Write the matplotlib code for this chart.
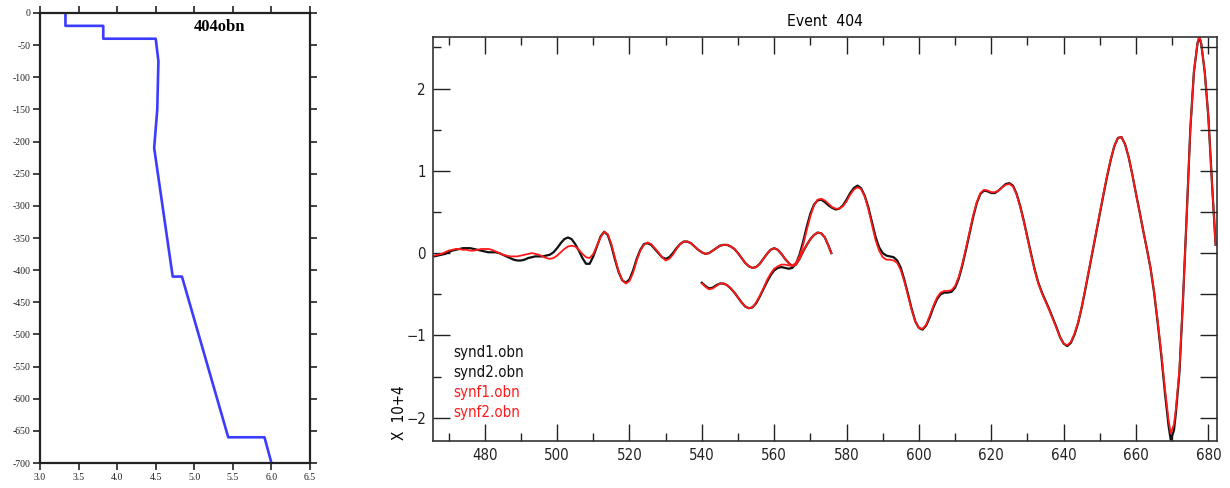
import matplotlib
matplotlib.use("Agg")
import matplotlib.pyplot as plt
from matplotlib import font_manager
from matplotlib.font_manager import FontProperties
from matplotlib.ticker import MultipleLocator

# ---------------- data: velocity profile (left) ----------------
vel = [3.33, 3.33, 3.82, 3.82, 4.50, 4.535, 4.52, 4.48, 4.72, 4.84, 5.44, 5.91, 6.00]
depth = [0, -20, -20, -40, -40, -75, -150, -210, -410, -410, -660, -660, -700]
vel_ticks = [3.0, 3.5, 4.0, 4.5, 5.0, 5.5, 6.0, 6.5]
vel_ticklabels = ["3.0", "3.5", "4.0", "4.5", "5.0", "5.5", "6.0", "6.5"]
depth_ticks = [0, -50, -100, -150, -200, -250, -300, -350, -400, -450, -500, -550, -600, -650, -700]
depth_ticklabels = ["0", "-50", "-100", "-150", "-200", "-250", "-300", "-350", "-400",
                    "-450", "-500", "-550", "-600", "-650", "-700"]
model_label = "404obn"

# ---------------- data: seismograms (right) ----------------
t1 = [466, 467, 468, 469, 470, 471, 472, 473, 474, 475, 476, 477, 478, 479, 480, 481, 482,
      483, 484, 485, 486, 487, 488, 489, 490, 491, 492, 493, 494, 495, 496, 497, 498, 499,
      500, 501, 502, 503, 504, 505, 506, 507, 508, 509, 510, 511, 512, 513, 514, 515, 516,
      517, 518, 519, 520, 521, 522, 523, 524, 525, 526, 527, 528, 529, 530, 531, 532, 533,
      534, 535, 536, 537, 538, 539, 540, 541, 542, 543, 544, 545, 546, 547, 548, 549, 550,
      551, 552, 553, 554, 555, 556, 557, 558, 559, 560, 561, 562, 563, 564, 565, 566, 567,
      568, 569, 570, 571, 572, 573, 574, 575, 575.8]
synd1 = [-0.04, -0.03, -0.02, -0.01, 0.01, 0.03, 0.04, 0.05, 0.06, 0.06, 0.06, 0.05, 0.04,
         0.03, 0.02, 0.01, 0.01, 0.01, 0.00, -0.02, -0.04, -0.06, -0.08, -0.09, -0.09, -0.08,
         -0.06, -0.05, -0.04, -0.04, -0.04, -0.03, -0.02, 0.01, 0.06, 0.12, 0.17, 0.19, 0.17,
         0.11, 0.03, -0.06, -0.13, -0.13, -0.04, 0.08, 0.20, 0.26, 0.22, 0.09, -0.08, -0.23,
         -0.33, -0.36, -0.32, -0.21, -0.07, 0.04, 0.11, 0.12, 0.10, 0.05, 0.00, -0.05, -0.07,
         -0.05, 0.00, 0.06, 0.11, 0.14, 0.14, 0.12, 0.08, 0.04, 0.01, -0.01, 0.00, 0.03, 0.06,
         0.09, 0.10, 0.10, 0.08, 0.05, 0.00, -0.06, -0.12, -0.16, -0.18, -0.17, -0.13, -0.07,
         -0.01, 0.04, 0.06, 0.04, -0.01, -0.07, -0.12, -0.16, -0.14, -0.07, 0.02, 0.10, 0.17,
         0.22, 0.25, 0.24, 0.19, 0.09, 0.00]
synf1 = [-0.03, -0.02, -0.01, 0.01, 0.03, 0.04, 0.05, 0.05, 0.04, 0.04, 0.03, 0.03, 0.04,
         0.05, 0.05, 0.05, 0.04, 0.02, 0.00, -0.02, -0.03, -0.04, -0.04, -0.04, -0.03, -0.02,
         -0.01, 0.00, -0.01, -0.02, -0.04, -0.06, -0.07, -0.06, -0.03, 0.01, 0.05, 0.08, 0.09,
         0.08, 0.04, -0.01, -0.05, -0.06, -0.01, 0.09, 0.19, 0.26, 0.23, 0.11, -0.06, -0.22,
         -0.33, -0.37, -0.34, -0.24, -0.09, 0.03, 0.10, 0.13, 0.11, 0.06, 0.01, -0.05, -0.09,
         -0.07, -0.02, 0.05, 0.11, 0.14, 0.14, 0.12, 0.08, 0.04, 0.01, -0.01, 0.00, 0.03, 0.06,
         0.09, 0.10, 0.10, 0.08, 0.05, 0.00, -0.06, -0.12, -0.16, -0.18, -0.17, -0.13, -0.07,
         -0.01, 0.04, 0.06, 0.04, -0.01, -0.07, -0.12, -0.16, -0.14, -0.07, 0.02, 0.10, 0.17,
         0.22, 0.25, 0.24, 0.19, 0.09, 0.00]

t2 = [540, 541, 542, 543, 544, 545, 546, 547, 548, 549, 550, 551, 552, 553, 554, 555, 556,
      557, 558, 559, 560, 561, 562, 563, 564, 565, 566, 567, 568, 569, 570, 571, 572, 573,
      574, 575, 576, 577, 578, 579, 580, 581, 582, 583, 584, 585, 586, 587, 588, 589, 590,
      591, 592, 593, 594, 595, 596, 597, 598, 599, 600, 601, 602, 603, 604, 605, 606, 607,
      608, 609, 610, 611, 612, 613, 614, 615, 616, 617, 618, 619, 620, 621, 622, 623, 624,
      625, 626, 627, 628, 629, 630, 631, 632, 633, 634, 635, 636, 637, 638, 639, 640, 641,
      642, 643, 644, 645, 646, 647, 648, 649, 650, 651, 652, 653, 654, 655, 656, 657, 658,
      659, 660, 661, 662, 663, 664, 665, 666, 667, 668, 669, 669.6, 670.5, 671, 672, 673,
      674, 675, 676, 677, 677.5, 678, 679, 680, 681, 682]
synd2 = [-0.36, -0.40, -0.43, -0.42, -0.39, -0.37, -0.37, -0.39, -0.43, -0.48, -0.54, -0.60,
         -0.65, -0.67, -0.66, -0.61, -0.53, -0.44, -0.35, -0.27, -0.21, -0.18, -0.17, -0.18,
         -0.19, -0.18, -0.13, -0.02, 0.14, 0.32, 0.48, 0.59, 0.64, 0.65, 0.62, 0.58, 0.55,
         0.53, 0.54, 0.58, 0.65, 0.73, 0.79, 0.82, 0.79, 0.70, 0.56, 0.38, 0.20, 0.07, 0.00,
         -0.03, -0.04, -0.05, -0.09, -0.18, -0.33, -0.50, -0.68, -0.83, -0.91, -0.93, -0.88,
         -0.78, -0.66, -0.56, -0.50, -0.48, -0.48, -0.47, -0.42, -0.31, -0.15, 0.04, 0.24,
         0.44, 0.61, 0.72, 0.76, 0.75, 0.73, 0.73, 0.76, 0.80, 0.84, 0.85, 0.82, 0.72, 0.57,
         0.39, 0.19, -0.01, -0.20, -0.36, -0.48, -0.58, -0.68, -0.79, -0.90, -1.02, -1.10,
         -1.13, -1.09, -0.99, -0.85, -0.66, -0.44, -0.21, 0.02, 0.25, 0.48, 0.71, 0.93, 1.13,
         1.30, 1.40, 1.41, 1.32, 1.16, 0.95, 0.72, 0.50, 0.27, 0.05, -0.18, -0.48, -0.85,
         -1.25, -1.70, -2.10, -2.27, -2.15, -1.95, -1.45, -0.55, 0.45, 1.50, 2.20, 2.55, 2.62,
         2.55, 2.20, 1.65, 0.85, 0.10]
synf2 = [-0.37, -0.41, -0.44, -0.43, -0.40, -0.37, -0.37, -0.39, -0.43, -0.48, -0.54, -0.60,
         -0.65, -0.67, -0.66, -0.60, -0.52, -0.43, -0.33, -0.25, -0.19, -0.16, -0.14, -0.14,
         -0.15, -0.15, -0.12, -0.04, 0.10, 0.28, 0.45, 0.58, 0.65, 0.66, 0.64, 0.60, 0.56,
         0.54, 0.54, 0.57, 0.63, 0.71, 0.77, 0.80, 0.78, 0.69, 0.54, 0.35, 0.16, 0.03, -0.05,
         -0.08, -0.08, -0.09, -0.12, -0.21, -0.35, -0.52, -0.69, -0.83, -0.91, -0.92, -0.87,
         -0.76, -0.64, -0.54, -0.48, -0.46, -0.46, -0.45, -0.40, -0.29, -0.13, 0.06, 0.26,
         0.46, 0.62, 0.73, 0.77, 0.76, 0.74, 0.74, 0.76, 0.80, 0.83, 0.84, 0.81, 0.71, 0.56,
         0.38, 0.18, -0.02, -0.21, -0.37, -0.49, -0.59, -0.69, -0.80, -0.91, -1.02, -1.10,
         -1.12, -1.08, -0.98, -0.84, -0.65, -0.43, -0.20, 0.03, 0.26, 0.49, 0.72, 0.94, 1.14,
         1.30, 1.40, 1.41, 1.32, 1.16, 0.95, 0.72, 0.50, 0.27, 0.05, -0.18, -0.47, -0.83,
         -1.22, -1.65, -2.03, -2.19, -2.08, -1.90, -1.42, -0.55, 0.45, 1.50, 2.20, 2.56, 2.64,
         2.56, 2.20, 1.65, 0.85, 0.10]
series_names = ["synd1.obn", "synd2.obn", "synf1.obn", "synf2.obn"]
series_colors = ["#111111", "#111111", "#ff1a1a", "#ff1a1a"]
title = "Event  404"
yunit = "X  10+4"

# ---------------- fonts ----------------
narrow_file = None
cands = []
for f in font_manager.fontManager.ttflist:
    fn = f.fname.lower()
    if ("narrow" in fn or "condensed" in fn) and "bold" not in fn and "italic" not in fn \
            and "oblique" not in fn and "light" not in fn and "black" not in fn \
            and "semi" not in fn and "extra" not in fn and "medium" not in fn:
        cands.append(f.fname)
for pref in ["liberationsansnarrow-regular", "liberationsans-narrow", "dejavusanscondensed.",
             "condensed-regular", "condensed.", "narrow"]:
    hit = [c for c in cands if pref in c.lower().replace(" ", "")]
    if hit:
        narrow_file = hit[0]
        break
if narrow_file:
    def nprops(size):
        return FontProperties(fname=narrow_file, size=size)
    scale = 1.0 if "narrow" in narrow_file.lower() else 0.9
else:
    def nprops(size):
        return FontProperties(family="DejaVu Sans", size=size)
    scale = 0.8
serif = "Liberation Serif"

fig = plt.figure(figsize=(12.3, 4.88), dpi=100)

# ---------------- left panel ----------------
axL = fig.add_axes([40 / 1230, 25 / 488, 270 / 1230, 450 / 488])
axL.plot(vel, depth, color="#3c3cff", lw=1.9)
axL.set_xlim(3.0, 6.5)
axL.set_ylim(-700, 0)
axL.set_xticks(vel_ticks)
axL.set_xticklabels(vel_ticklabels, fontfamily=serif, fontsize=7)
axL.set_yticks(depth_ticks)
axL.set_yticklabels(depth_ticklabels, fontfamily=serif, fontsize=7)
axL.tick_params(direction="out", length=5, width=1.2, top=True, right=True, pad=2,
                colors="#222222")
for s in axL.spines.values():
    s.set_linewidth(1.6)
    s.set_color("#222222")
axL.text(5.33, -22, model_label, fontfamily=serif, fontweight="bold", fontsize=12,
         ha="center", va="center")

# ---------------- right panel ----------------
axR = fig.add_axes([433 / 1230, 47.3 / 488, 783.7 / 1230, 404 / 488])
axR.plot(t1, synd1, color=series_colors[0], lw=1.6)
axR.plot(t2, synd2, color=series_colors[1], lw=1.6)
axR.plot(t1, synf1, color=series_colors[2], lw=1.3)
axR.plot(t2, synf2, color=series_colors[3], lw=1.3)
axR.set_xlim(465.7, 682.3)
axR.set_ylim(-2.28, 2.63)
axR.xaxis.set_major_locator(MultipleLocator(20))
axR.xaxis.set_minor_locator(MultipleLocator(10))
axR.yaxis.set_major_locator(MultipleLocator(1))
axR.yaxis.set_minor_locator(MultipleLocator(0.5))
axR.tick_params(which="major", direction="in", length=12, width=1.0, top=True,
                right=False, colors="#222222", pad=5)
axR.tick_params(which="minor", direction="in", length=6, width=1.0, top=True,
                right=False, colors="#222222")
fig.canvas.draw()
for lab in axR.get_xticklabels() + axR.get_yticklabels():
    lab.set_fontproperties(nprops(12 * scale))
for s in axR.spines.values():
    s.set_linewidth(1.2)
    s.set_color("#333333")

axT = axR.twinx()
axT.set_ylim(-2.28, 2.63)
axT.yaxis.set_major_locator(MultipleLocator(0.5))
axT.tick_params(direction="in", length=12, width=1.0, labelright=False, colors="#222222")
for s in axT.spines.values():
    s.set_visible(False)

axR.set_title(title, fontproperties=nprops(12.5 * scale), pad=8)
fig.text(400 / 1230, 1 - 440 / 488, yunit, rotation=90, fontproperties=nprops(12 * scale),
         ha="center", va="bottom")

ys = [352.7, 372.7, 392.7, 412.3]
for name, col, y in zip(series_names, series_colors, ys):
    fig.text(453 / 1230, 1 - y / 488, name, color=col, fontproperties=nprops(12 * scale),
             ha="left", va="center")

fig.savefig("out.png", dpi=100)
